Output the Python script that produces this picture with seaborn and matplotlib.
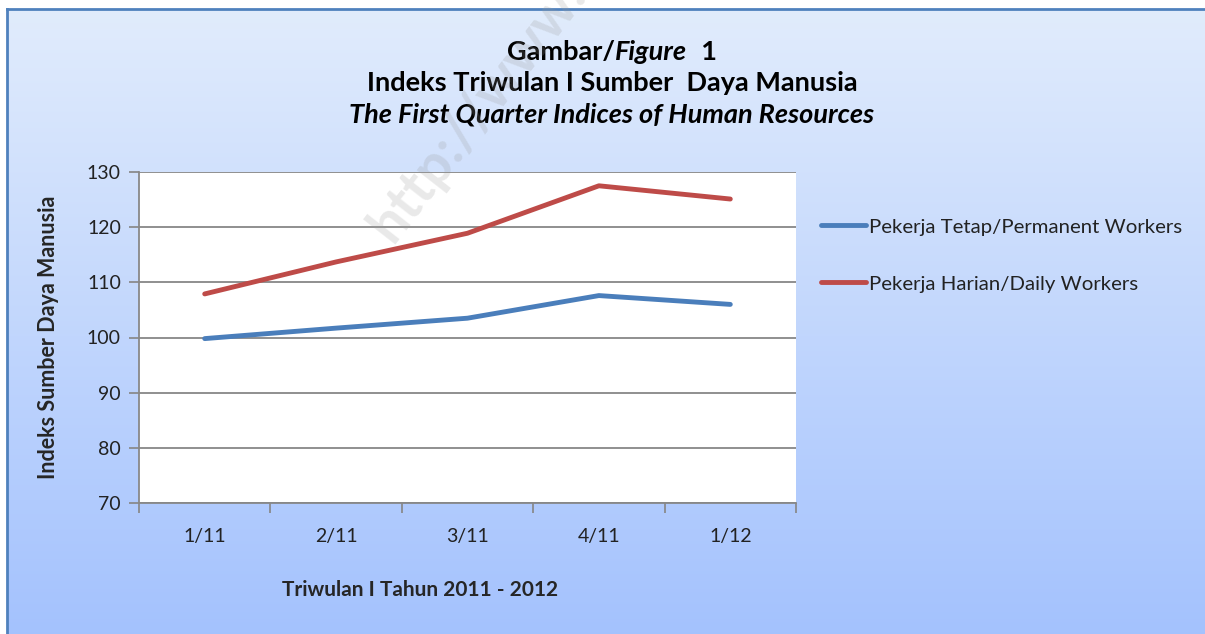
import matplotlib
matplotlib.use("Agg")
from matplotlib import pyplot as plt
import numpy as np
import pandas as pd
import seaborn as sns

quarters = ["1/11", "2/11", "3/11", "4/11", "1/12"]
permanent = [99.8, 101.7, 103.5, 107.6, 106.0]
daily = [107.9, 113.7, 118.9, 127.5, 125.1]
series_names = ["Pekerja Tetap/Permanent Workers", "Pekerja Harian/Daily Workers"]
y_ticks = [70, 80, 90, 100, 110, 120, 130]

df = pd.concat([
    pd.DataFrame({"quarter": quarters, "index": permanent, "series": series_names[0]}),
    pd.DataFrame({"quarter": quarters, "index": daily, "series": series_names[1]}),
])

sns.set_theme(style="white")
plt.rcParams["font.family"] = ["Lato", "DejaVu Sans"]

fig = plt.figure(figsize=(12.05, 6.34), dpi=100)
fig.patch.set_facecolor("white")

# gradient background of the chart box
bg = fig.add_axes([0.006, 0, 0.994, 1 - 9 / 634])
grad = np.linspace(0, 1, 256).reshape(-1, 1)
top = np.array([0.882, 0.925, 0.988])
bot = np.array([0.643, 0.761, 0.996])
img = top + (bot - top) * grad[:, :, None]
bg.imshow(img, aspect="auto", extent=[0, 1, 0, 1], origin="upper")
bg.set_xlim(0, 1)
bg.set_ylim(0, 1)
bg.set_xticks([])
bg.set_yticks([])
for side in ["top", "left"]:
    bg.spines[side].set_color("#4f81bd")
    bg.spines[side].set_linewidth(2)
for side in ["right", "bottom"]:
    bg.spines[side].set_visible(False)

ax = fig.add_axes([139 / 1205, 1 - 503 / 634, (796 - 139) / 1205, (503 - 172) / 634])
ax.set_facecolor("white")
colors = {series_names[0]: "#4a7ebb", series_names[1]: "#be4b48"}
sns.lineplot(data=df, x="quarter", y="index", hue="series", palette=colors,
             linewidth=3.5, sort=False, ax=ax, legend=True, solid_capstyle="round")

ax.set_xlim(-0.5, 4.5)
ax.set_ylim(70, 130)
ax.set_yticks(y_ticks)
ax.set_yticklabels([str(v) for v in y_ticks], fontsize=14, color="#222222")
ax.set_xticks(np.arange(-0.5, 5, 1))
ax.set_xticklabels([])
ax.set_xticks(range(len(quarters)), minor=True)
ax.set_xticklabels(quarters, minor=True, fontsize=14, color="#222222")
ax.tick_params(axis="x", which="major", length=7, color="#888888", direction="out", bottom=True)
ax.tick_params(axis="x", which="minor", length=0, pad=18)
ax.tick_params(axis="y", length=7, color="#888888", direction="out", left=True, pad=6)
ax.grid(axis="y", color="#878787", linewidth=1.3)
ax.set_axisbelow(True)
for side in ["top", "right"]:
    ax.spines[side].set_visible(False)
for side in ["left", "bottom"]:
    ax.spines[side].set_color("#888888")
    ax.spines[side].set_linewidth(1.3)

ax.set_xlabel("")
ax.set_ylabel("Indeks Sumber Daya Manusia", fontsize=15.5, fontweight="bold", labelpad=20)
fig.text(420 / 1205, 1 - 590 / 634, "Triwulan I Tahun 2011 - 2012", fontsize=15,
         fontweight="bold", ha="center", va="center")

leg = ax.legend(loc="upper left", bbox_to_anchor=(1.025, 0.885), frameon=False,
                fontsize=14.7, handlelength=2.2, handletextpad=0.15, labelspacing=1.95,
                borderaxespad=0)
for t in leg.get_texts():
    t.set_color("#222222")

# title
fig.canvas.draw()
r = fig.canvas.get_renderer()
y1 = 1 - 52 / 634
parts = [("Gambar/", "normal", "bold"), ("Figure", "italic", "bold"), ("  1", "normal", "bold")]
texts = [fig.text(0, y1, s, fontsize=19.5, style=st, fontweight=w, va="center", color="black")
         for s, st, w in parts]
widths = [t.get_window_extent(r).width for t in texts]
x = 612 - sum(widths) / 2
for t, w in zip(texts, widths):
    t.set_x(x / 1205)
    x += w
fig.text(612 / 1205, 1 - 83 / 634, "Indeks Triwulan I Sumber  Daya Manusia", fontsize=19.5,
         fontweight="bold", ha="center", va="center", color="black")
fig.text(612 / 1205, 1 - 115 / 634, "The First Quarter Indices of Human Resources", fontsize=19.5,
         fontweight="bold", style="italic", ha="center", va="center", color="black")

# faint watermark
fig.text(360 / 1205, 1 - 250 / 634, "http://www.bps.go.id", fontsize=40, fontweight="bold",
         color="#999999", alpha=0.22, rotation=52, ha="left", va="bottom")

fig.savefig("out.png", dpi=100, facecolor=fig.get_facecolor())
